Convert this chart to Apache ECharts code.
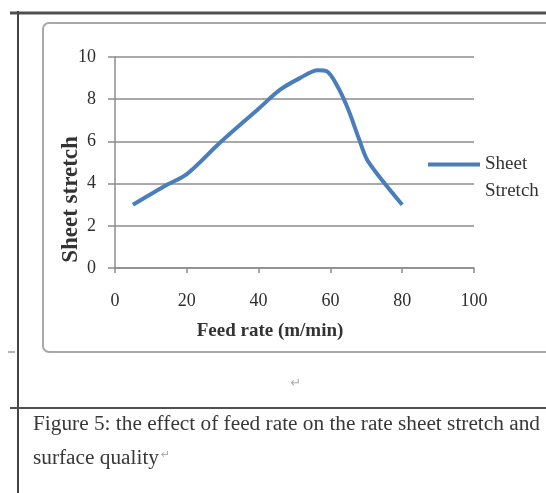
<!DOCTYPE html>
<html>
<head>
<meta charset="utf-8">
<script src="https://cdn.jsdelivr.net/npm/echarts@6/dist/echarts.min.js"></script>
<style>
html,body{margin:0;padding:0;background:#fff;}
#chart{width:546px;height:493px;}
</style>
</head>
<body>
<div id="chart"></div>
<script>
// Data
var feedRate = [5, 14, 20, 29, 40, 46, 51.5, 56.5, 59, 62, 65, 68, 70.5, 80];
var sheetStretch = [3.0, 3.9, 4.45, 5.9, 7.55, 8.45, 9.0, 9.37, 9.32, 8.6, 7.5, 6.1, 5.05, 3.0];
var seriesName = 'Sheet Stretch';
var xTitle = 'Feed rate (m/min)';
var yTitle = 'Sheet stretch';
var captionLine1 = 'Figure 5: the effect of feed rate on the rate sheet stretch and';
var captionLine2 = 'surface quality';

var points = feedRate.map(function (x, i) { return [x, sheetStretch[i]]; });
var serif = 'Liberation Serif';

var chart = echarts.init(document.getElementById('chart'), null, {renderer: 'canvas'});
chart.setOption({
  animation: false,
  backgroundColor: '#fff',
  grid: {left: 115, right: 72, top: 57, bottom: 225, containLabel: false},
  legend: {
    left: 428, top: 124, padding: 0,
    icon: 'rect', itemWidth: 52, itemHeight: 4, itemGap: 4,
    data: [seriesName],
    formatter: function (name) { return '\n' + name.replace(' ', '\n'); },
    textStyle: {fontFamily: serif, fontSize: 19, color: '#333', lineHeight: 27}
  },
  xAxis: {
    type: 'value', min: 0, max: 100, interval: 20,
    name: xTitle, nameLocation: 'middle', nameGap: 54, nameMoveOverlap: false,
    nameTextStyle: {fontFamily: serif, fontWeight: 'bold', fontSize: 19, color: '#333', padding: [0, 49, 0, 0]},
    axisLine: {show: true, lineStyle: {color: '#8c8c8c', width: 1.5}},
    axisTick: {show: true, length: 5, lineStyle: {color: '#8c8c8c', width: 1.5}},
    axisLabel: {fontFamily: serif, fontSize: 18, color: '#2e2e2e', margin: 24},
    splitLine: {show: false}
  },
  yAxis: {
    type: 'value', min: 0, max: 10, interval: 2,
    name: yTitle, nameLocation: 'middle', nameGap: 32, nameRotate: 90, nameMoveOverlap: false,
    nameTextStyle: {fontFamily: serif, fontWeight: 'bold', fontSize: 23, color: '#333', padding: [0, 74, 0, 0]},
    axisLine: {show: true, lineStyle: {color: '#8c8c8c', width: 1.5}},
    axisTick: {show: true, length: 7, lineStyle: {color: '#8c8c8c', width: 1.5}},
    axisLabel: {fontFamily: serif, fontSize: 18, color: '#2e2e2e', margin: 19},
    splitLine: {show: true, lineStyle: {color: '#8c8c8c', width: 1.5}}
  },
  series: [{
    name: seriesName, type: 'line', data: points,
    smooth: 0.3, showSymbol: false, symbol: 'none',
    lineStyle: {color: '#4a7ebb', width: 4},
    itemStyle: {color: '#4a7ebb'}
  }],
  graphic: [
    {type: 'line', shape: {x1: 10, y1: 13, x2: 546, y2: 13}, style: {stroke: '#505050', lineWidth: 3}, silent: true},
    {type: 'line', shape: {x1: 18, y1: 11, x2: 18, y2: 493}, style: {stroke: '#444', lineWidth: 2}, silent: true},
    {type: 'rect', shape: {x: 43, y: 23, width: 560, height: 329, r: 6}, style: {fill: 'none', stroke: '#a8a8a8', lineWidth: 2}, silent: true},
    {type: 'line', shape: {x1: 8, y1: 352, x2: 15, y2: 352}, style: {stroke: '#999', lineWidth: 1.5}, silent: true},
    {type: 'line', shape: {x1: 10, y1: 408, x2: 546, y2: 408}, style: {stroke: '#505050', lineWidth: 2}, silent: true},
    {type: 'text', x: 296, y: 384, style: {text: '\u21B5', font: '13px DejaVu Sans', fill: '#aaa', align: 'center', verticalAlign: 'middle'}, silent: true},
    {type: 'text', x: 33, y: 424, style: {text: captionLine1, font: '21.3px "Liberation Serif"', fill: '#383838', verticalAlign: 'middle'}, silent: true},
    {type: 'text', x: 33, y: 458, style: {text: captionLine2, font: '21.3px "Liberation Serif"', fill: '#383838', verticalAlign: 'middle'}, silent: true},
    {type: 'text', x: 161, y: 455, style: {text: '\u21B5', font: '11px DejaVu Sans', fill: '#aaa', verticalAlign: 'middle'}, silent: true}
  ]
});
</script>
</body>
</html>
